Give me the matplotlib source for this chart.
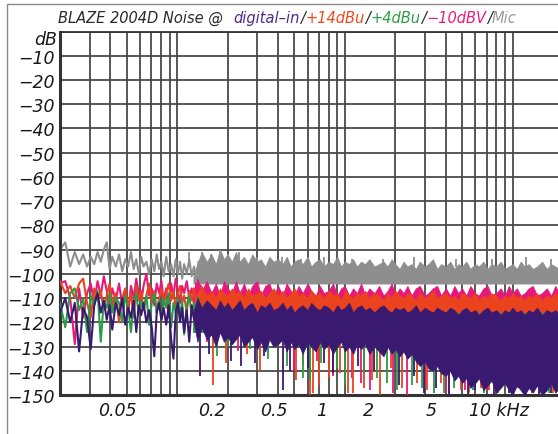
import numpy as np
import matplotlib
matplotlib.use("Agg")
import matplotlib.pyplot as plt
import matplotlib.transforms as mtransforms
from matplotlib.patches import Rectangle

W, H = 558, 435

# low end of each noise spectrum, one value per FFT bin (Hz -> dB)
f_bins_hz = [20, 21.5, 23, 24.5, 26, 27.5, 29, 30.5, 32, 33.5,
             35, 36.5, 38, 39.5, 41, 43, 45, 47, 49, 51,
             53, 55, 57, 59, 61, 63, 65.5, 68, 70.5, 73,
             75.5, 78, 80.5, 83, 86, 89, 92, 95, 98, 101,
             104, 107, 110, 114, 118, 122, 126, 130, 134, 138]

mic_bins = [-90, -87, -97, -91, -96, -92, -97, -93, -96, -91,
            -95, -90, -87, -98, -93, -97, -92, -99, -94, -97,
            -91, -98, -94, -100, -93, -97, -95, -100, -94, -99,
            -92, -98, -95, -101, -93, -99, -96, -101, -94, -100,
            -95, -102, -96, -100, -94, -101, -97, -102, -95, -100]

m10dbv_bins = [-104, -103, -110, -129, -106, -118, -108, -104, -112, -103,
               -109, -101, -107, -114, -106, -111, -104, -113, -107, -116,
               -105, -110, -102, -108, -112, -105, -100, -109, -106, -113,
               -104, -108, -103, -111, -106, -118, -104, -109, -102, -107,
               -112, -105, -108, -103, -110, -106, -113, -104, -109, -105]

p14dbu_bins = [-103, -108, -105, -110, -104, -102, -112, -118, -106, -111,
               -107, -115, -109, -104, -113, -108, -120, -110, -106, -114,
               -108, -118, -105, -111, -107, -115, -109, -104, -112, -107,
               -116, -110, -106, -113, -108, -104, -111, -107, -114, -108,
               -105, -112, -109, -116, -107, -111, -106, -113, -108, -110]

p4dbu_bins = [-112, -122, -108, -106, -115, -110, -124, -109, -113, -107,
              -128, -111, -114, -108, -116, -110, -112, -120, -109, -114,
              -124, -112, -108, -117, -111, -115, -109, -121, -112, -108,
              -116, -111, -119, -110, -114, -108, -122, -112, -116, -110,
              -118, -111, -125, -113, -109, -117, -112, -120, -110, -115]

digital_bins = [-116, -110, -120, -112, -132, -114, -118, -131, -113, -108,
                -116, -111, -119, -113, -123, -112, -117, -110, -121, -114,
                -118, -111, -124, -113, -117, -112, -120, -115, -122, -134,
                -116, -112, -119, -114, -121, -113, -127, -135, -116, -112,
                -120, -114, -124, -115, -128, -113, -119, -116, -126, -114]

# upper part: bins are too dense to separate, so keep the band edges (kHz -> dB)
f_band = [0.125, 0.132, 0.14, 0.15, 0.16, 0.17, 0.18, 0.19, 0.2, 0.212,
          0.224, 0.236, 0.25, 0.265, 0.28, 0.3, 0.315, 0.335, 0.355, 0.375,
          0.4, 0.425, 0.45, 0.475, 0.5, 0.53, 0.56, 0.6, 0.63, 0.67,
          0.71, 0.75, 0.8, 0.85, 0.9, 0.95, 1.0, 1.06, 1.12, 1.18,
          1.25, 1.32, 1.4, 1.5, 1.6, 1.7, 1.8, 1.9, 2.0, 2.12,
          2.24, 2.36, 2.5, 2.65, 2.8, 3.0, 3.15, 3.35, 3.55, 3.75,
          4.0, 4.25, 4.5, 4.75, 5.0, 5.3, 5.6, 6.0, 6.3, 6.7,
          7.1, 7.5, 8.0, 8.5, 9.0, 9.5, 10, 10.6, 11.2, 11.8,
          12.5, 13.2, 14, 15, 16, 17, 18, 19, 20]

mic_top = [-101, -96, -91, -95, -92, -96, -90, -94, -92, -95,
           -91, -95, -93, -96, -92, -95, -94, -97, -93, -95,
           -94, -96, -93, -97, -95, -94, -96, -93, -97, -95,
           -94, -97, -95, -96, -93, -97, -95, -96, -94, -97,
           -95, -96, -94, -97, -96, -95, -97, -94, -96, -98,
           -95, -97, -96, -98, -95, -97, -96, -94, -98, -96,
           -97, -95, -98, -96, -97, -95, -98, -96, -97, -95,
           -98, -96, -97, -95, -98, -97, -96, -98, -95, -97,
           -96, -98, -97, -95, -98, -96, -97, -98, -96]
mic_floor = -104

m10dbv_top = [-110, -102, -107, -103, -108, -104, -109, -103, -106, -108,
              -103, -108, -104, -109, -105, -103, -109, -105, -104, -109,
              -105, -109, -104, -107, -109, -105, -108, -104, -107, -109,
              -105, -108, -107, -104, -109, -106, -105, -109, -106, -108,
              -104, -109, -106, -108, -105, -109, -107, -104, -109, -106,
              -108, -105, -109, -106, -105, -109, -108, -106, -105, -109,
              -106, -109, -105, -108, -106, -109, -105, -108, -109, -106,
              -105, -109, -108, -106, -109, -105, -108, -106, -109, -108,
              -106, -105, -109, -108, -106, -109, -105, -108, -106]
m10dbv_floor = -112

p14dbu_top = [-115, -108, -105, -109, -107, -110, -106, -108, -109, -106,
              -108, -107, -110, -106, -109, -108, -107, -110, -108, -106,
              -109, -107, -110, -108, -106, -109, -108, -110, -107, -109,
              -108, -110, -107, -109, -108, -111, -107, -109, -110, -108,
              -109, -107, -110, -108, -109, -111, -108, -110, -107, -109,
              -110, -108, -109, -111, -108, -110, -109, -107, -110, -109,
              -108, -110, -109, -111, -108, -109, -110, -108, -111, -109,
              -110, -108, -109, -111, -109, -110, -108, -110, -109, -111,
              -109, -110, -108, -111, -109, -110, -108, -109, -110]
p14dbu_floor = -118

p4dbu_top = -116
p4dbu_floor = -124

digital_top = [-116, -110, -114, -111, -113, -115, -111, -114, -112, -115,
               -113, -111, -115, -113, -112, -116, -113, -114, -112, -115,
               -114, -112, -115, -113, -116, -114, -113, -115, -112, -114,
               -115, -113, -114, -116, -113, -115, -114, -112, -116, -114,
               -113, -115, -114, -116, -114, -113, -115, -116, -114, -115,
               -114, -116, -115, -113, -116, -114, -115, -116, -114, -115,
               -116, -114, -115, -117, -115, -114, -116, -115, -117, -115,
               -114, -116, -115, -117, -115, -116, -114, -116, -115, -117,
               -115, -116, -114, -117, -115, -116, -115, -117, -116]
digital_bottom = [-119, -128, -122, -127, -125, -130, -124, -128, -126, -129,
                  -127, -125, -130, -128, -126, -131, -128, -132, -127, -130,
                  -129, -127, -132, -128, -131, -129, -133, -128, -130, -132,
                  -128, -131, -129, -133, -130, -128, -132, -130, -133, -129,
                  -131, -129, -133, -130, -132, -134, -130, -133, -131, -134,
                  -132, -135, -133, -136, -138, -136, -139, -140, -138, -141,
                  -142, -140, -144, -142, -145, -143, -147, -145, -143, -148,
                  -146, -144, -149, -147, -145, -148, -150, -146, -148, -150,
                  -147, -149, -146, -150, -148, -145, -149, -147, -150]

# isolated peaks and dips sticking out of the bands (kHz, dB)
mic_peak_f = [0.117, 0.14, 0.16, 0.18, 0.2, 0.235, 0.3, 0.42, 0.55, 0.75,
              1.1, 1.7, 2.6, 4.6, 7.5, 12, 17]
mic_peak_db = [-91, -91, -92, -90, -92, -91, -93, -93, -94, -93,
               -94, -94, -93, -94, -94, -93, -94]

m10dbv_dip_f = [0.15, 0.23, 0.38, 0.5, 0.68, 0.85, 1.1, 1.25, 1.42, 1.95,
                2.35, 3.0, 4.0, 5.2, 7.1, 10.8, 13, 19]
m10dbv_dip_db = [-128, -132, -130, -140, -136, -142, -143, -145, -148, -149,
                 -150, -146, -149, -148, -148, -147, -149, -148]

p14dbu_dip_f = [0.164, 0.196, 0.26, 0.31, 0.51, 0.56, 0.62, 0.65, 0.7, 0.8,
                0.94, 1.05, 1.12, 1.3, 1.45, 1.63, 1.88, 2.2, 2.7, 3.1,
                3.74, 4.2, 4.94, 5.5, 6.5, 7.2, 8.9, 10.3, 11.5, 13.5,
                15.6, 17.5, 18.5]
p14dbu_dip_db = [-146, -137, -133, -140, -144, -138, -150, -149, -146, -143,
                 -141, -149, -149, -147, -144, -150, -139, -147, -145, -148,
                 -145, -149, -148, -149, -147, -148, -146, -147, -149, -148,
                 -146, -149, -147]

p4dbu_dip_f = [0.172, 0.2, 0.27, 0.35, 0.45, 0.56, 0.62, 0.72, 0.9, 1.0,
               1.3, 1.55, 1.79, 2.05, 2.5, 2.9, 3.4, 3.9, 4.5, 5.8,
               6.8, 8.2, 9.8, 12.2, 14.5, 16.5, 19.5]
p4dbu_dip_db = [-134, -130, -131, -135, -138, -143, -144, -137, -139, -146,
                -141, -143, -145, -148, -146, -147, -149, -149, -147, -148,
                -149, -149, -148, -148, -149, -149, -149]

digital_dip_f = [0.137, 0.155, 0.21, 0.24, 0.29, 0.33, 0.43, 0.47, 0.6, 0.75,
                 0.85, 1.2, 1.5, 2.1, 2.6, 2.95, 3.5, 4.2, 5.4, 6.0,
                 7.8, 9.5, 11.8, 14.3, 17]
digital_dip_db = [-142, -133, -136, -138, -137, -134, -148, -140, -139, -137,
                  -141, -138, -140, -146, -142, -149, -147, -150, -150, -148,
                  -150, -149, -150, -150, -149]

C_MIC = "#8e8e8e"
C_M10 = "#e6187a"
C_P14 = "#ea431d"
C_P4 = "#2b9a46"
C_DIG = "#3a1a70"

title_parts = ["BLAZE 2004D Noise @", "digital\u2013in", "/", "+14dBu", "/",
               "+4dBu", "/", "\u221210dBV", "/", "Mic"]
title_colors = ["#2a2a2a", "#4b2a8c", "#222222", "#f0481e", "#222222",
                "#2c9f46", "#222222", "#ec1c7c", "#222222", "#9a9a9a"]

x_label_f = [0.05, 0.2, 0.5, 1, 2, 5, 10]
x_label_txt = ["0.05", "0.2", "0.5", "1", "2", "5", "10 kHz"]
y_ticks = list(range(-150, 1, 10))

plt.rcParams["font.family"] = ["DejaVu Sans"]
fig = plt.figure(figsize=(W / 100, H / 100), dpi=100)
fig.patch.set_facecolor("white")

# thin frame around the whole panel
fig.add_artist(Rectangle((7 / W, -0.2), 1.2, 0.2 + (H - 5) / H, transform=fig.transFigure,
                         fill=False, edgecolor="#8a8a8a", lw=1.0))

ax = fig.add_axes([60 / W, (H - 396) / H, (563 - 60) / W, (396 - 32.5) / H])
ax.set_xscale("log")
ax.set_xlim(0.02, 20)
ax.set_ylim(-150, 0)

grid_f = [m * 10.0 ** e for e in (-2, -1, 0, 1) for m in range(1, 10) if 0.02 < m * 10.0 ** e < 20]
ax.xaxis.set_major_locator(matplotlib.ticker.FixedLocator(grid_f))
ax.xaxis.set_minor_locator(matplotlib.ticker.NullLocator())
ax.set_yticks(y_ticks)
ax.set_yticklabels(["" if v == 0 else f"\u2212{abs(v)}" for v in y_ticks])
ax.tick_params(axis="x", length=0, labelbottom=False)
ax.tick_params(axis="y", length=0, pad=4, labelsize=12.5, labelcolor="#1a1a1a")
for t in ax.get_yticklabels():
    t.set_style("italic")
ax.grid(True, color="#4a4a4a", lw=1.3)
ax.set_axisbelow(True)
for side, sp in ax.spines.items():
    sp.set_color("#333333")
    sp.set_linewidth(2.2 if side in ("left", "bottom") else 1.3)

f_bins = np.array(f_bins_hz) / 1000.0
series = [
    (mic_bins, mic_top, mic_floor, C_MIC, 2),
    (m10dbv_bins, m10dbv_top, m10dbv_floor, C_M10, 3),
    (p14dbu_bins, p14dbu_top, p14dbu_floor, C_P14, 4),
    (p4dbu_bins, p4dbu_top, p4dbu_floor, C_P4, 5),
    (digital_bins, digital_top, digital_bottom, C_DIG, 6),
]
for bins, top, bottom, col, z in series:
    ax.plot(f_bins, bins, color=col, lw=1.5, zorder=z)
    ax.fill_between(f_band, bottom, top, color=col, lw=0.6, edgecolor=col, zorder=z)

ax.vlines(mic_peak_f, -97, mic_peak_db, color=C_MIC, lw=1.3, zorder=2)
ax.vlines(m10dbv_dip_f, -112, m10dbv_dip_db, color=C_M10, lw=1.3, zorder=3)
ax.vlines(p14dbu_dip_f, -116, p14dbu_dip_db, color=C_P14, lw=1.3, zorder=4)
ax.vlines(p4dbu_dip_f, -118, p4dbu_dip_db, color=C_P4, lw=1.3, zorder=5)
ax.vlines(digital_dip_f, -125, digital_dip_db, color=C_DIG, lw=1.3, zorder=6)

# frequency labels sit on their own log scale under the grid
lab = ax.twiny()
lab.set_xscale("log")
lab.set_xlim(0.0217, 34.7)
lab.xaxis.set_ticks_position("bottom")
lab.set_xticks(x_label_f)
lab.set_xticklabels(x_label_txt)
lab.xaxis.set_minor_locator(matplotlib.ticker.NullLocator())
lab.tick_params(axis="x", length=0, pad=4.5, labelsize=12.5, labelcolor="#1a1a1a")
for sp in lab.spines.values():
    sp.set_visible(False)
for t in lab.get_xticklabels():
    t.set_style("italic")
last = lab.get_xticklabels()[-1]
last.set_horizontalalignment("left")
last.set_transform(last.get_transform() + mtransforms.ScaledTranslation(-9 / 100, 0, fig.dpi_scale_trans))

fig.text(57 / W, 1 - 40 / H, "dB", ha="right", va="center", fontsize=12.5,
         style="italic", color="#1a1a1a")

fig.canvas.draw()
renderer = fig.canvas.get_renderer()
x = 58.0
for i, (s, c) in enumerate(zip(title_parts, title_colors)):
    t = fig.text(x / W, 1 - 18.5 / H, s, color=c, fontsize=10.5, style="italic",
                 va="center", ha="left")
    bb = t.get_window_extent(renderer)
    x = bb.x1 + (10 if i == 0 else 0.5)

fig.savefig("out.png", dpi=100)
